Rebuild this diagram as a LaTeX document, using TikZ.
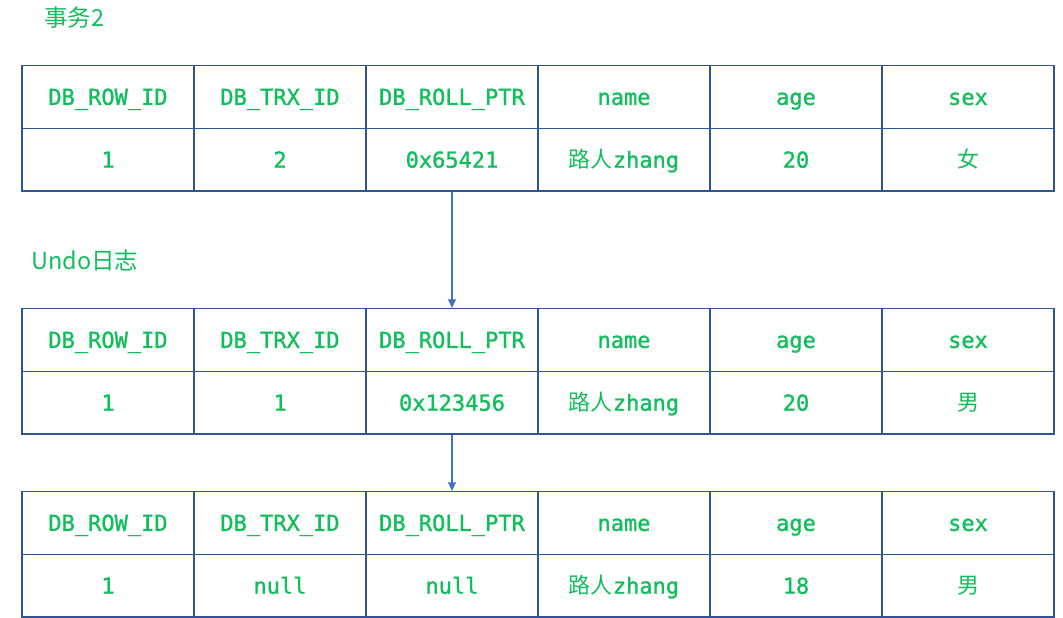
\documentclass[tikz,border=0pt]{standalone}
\usepackage{fontspec}
\setmonofont[FakeBold=1.2]{DejaVu Sans Mono}
\newfontfamily\cjk{Noto Sans CJK SC}
\usetikzlibrary{arrows.meta}
\definecolor{tgreen}{RGB}{18,190,92}
\definecolor{tblue}{RGB}{47,85,151}
\definecolor{arrblue}{RGB}{68,114,196}
\newcommand\lurenz{{\cjk 路人}zhang}
\newcommand\fnu{{\cjk 女}}
\newcommand\fnan{{\cjk 男}}
\begin{document}
\begin{tikzpicture}[x=1pt,y=-1pt,
  cell/.style={draw=tblue, line width=1.3pt, minimum width=172pt, minimum height=62.8pt,
    inner sep=0pt, text height=20pt, text depth=4pt, text=tgreen,
    font=\fontsize{22}{24}\selectfont\ttfamily, anchor=center},
  title/.style={text=tgreen, font=\fontsize{23.5}{26}\selectfont\cjk, anchor=west, inner sep=0pt},
  link/.style={draw=arrblue, line width=1.2pt, -{Triangle[length=8.5pt,width=8pt]}}]
\useasboundingbox (0,0) rectangle (1063,618);
\node[title] (ttl) at (44,18) {事务2};
\node[title] (undo) at (31,260) {Undo日志};
\foreach \t/\T in {1/65.5, 2/308.5, 3/491.5}{
  \foreach \h [count=\i from 0] in {DB\_ROW\_ID, DB\_TRX\_ID, DB\_ROLL\_PTR, name, age, sex}
    \node[cell] (t\t h\i) at (108+172*\i, \T+31.4) {\h};
}
\foreach \v [count=\i from 0] in {1, 2, 0x65421, \lurenz, 20, \fnu}
  \node[cell] (t1d\i) at (108+172*\i, 65.5+94.2) {\v};
\foreach \v [count=\i from 0] in {1, 1, 0x123456, \lurenz, 20, \fnan}
  \node[cell] (t2d\i) at (108+172*\i, 308.5+94.2) {\v};
\foreach \v [count=\i from 0] in {1, null, null, \lurenz, 18, \fnan}
  \node[cell] (t3d\i) at (108+172*\i, 491.5+94.2) {\v};
\draw[link] (t1d2.south) -- (t2h2.north);
\draw[link] (t2d2.south) -- (t3h2.north);
\end{tikzpicture}
\end{document}
